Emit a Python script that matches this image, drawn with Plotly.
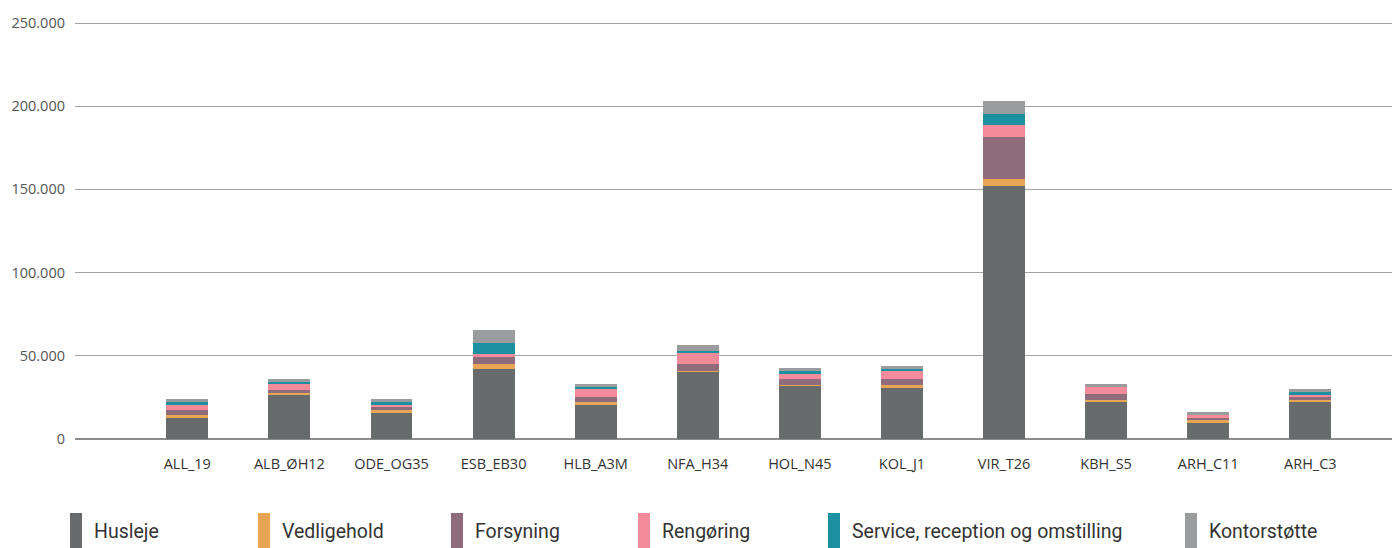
import plotly.graph_objects as go

categories = ["ALL_19", "ALB_ØH12", "ODE_OG35", "ESB_EB30", "HLB_A3M", "NFA_H34",
              "HOL_N45", "KOL_J1", "VIR_T26", "KBH_S5", "ARH_C11", "ARH_C3"]

husleje      = [12600, 26400, 15600, 42000, 20400, 40800, 32400, 31200, 152000, 22200, 9600, 22200]
vedligehold  = [1800, 1800, 1800, 3000, 1800, 300, 300, 1200, 4200, 1200, 1800, 1200]
forsyning    = [3000, 1200, 1800, 4800, 3000, 4200, 3600, 3600, 25200, 3600, 1200, 1800]
rengoring    = [3000, 3600, 1200, 1200, 4800, 6600, 3000, 4800, 7200, 4200, 1800, 1200]
service      = [1800, 1200, 1800, 6600, 1200, 1200, 1800, 1200, 6600, 0, 0, 1800]
kontorstotte = [1800, 1800, 1800, 7800, 1800, 3600, 1800, 1800, 7800, 1800, 1800, 1800]

series_names = ["Husleje", "Vedligehold", "Forsyning", "Rengøring",
                "Service, reception og omstilling", "Kontorstøtte"]
series_values = [husleje, vedligehold, forsyning, rengoring, service, kontorstotte]
colors = ["#686b6b", "#e9a556", "#8f6c7b", "#f48b9b", "#1b90a0", "#9a9c9d"]

y_ticks = [0, 50000, 100000, 150000, 200000, 250000]
y_tick_labels = ["0", "50.000", "100.000", "150.000", "200.000", "250.000"]

fig = go.Figure()
for name, vals, col in zip(series_names, series_values, colors):
    fig.add_trace(go.Bar(
        x=list(range(len(categories))), y=vals, name=name,
        marker=dict(color=col, line=dict(width=0)),
        width=0.41, showlegend=False,
    ))

# plot area geometry in pixels (for placing the custom legend)
W, H = 1392, 548
L, T, B = 75, 21, 439
PH = B - T

def px_x(x):
    return (x - L) / (W - L)

def px_y(y):
    return (B - y) / PH

legend_x = [70, 258, 451, 638, 828, 1185]
for lx, name, col in zip(legend_x, series_names, colors):
    fig.add_shape(type="rect", xref="paper", yref="paper",
                  x0=px_x(lx), x1=px_x(lx + 12),
                  y0=px_y(549), y1=px_y(513),
                  fillcolor=col, line=dict(width=0), layer="above")
    fig.add_annotation(xref="paper", yref="paper",
                       x=px_x(lx + 22), y=px_y(531),
                       xanchor="left", yanchor="middle", text=name, showarrow=False,
                       font=dict(family="Roboto", size=19.5, color="#333333"))

fig.update_layout(
    width=W, height=H,
    margin=dict(l=L, r=0, t=T, b=H - B),
    barmode="stack",
    plot_bgcolor="white", paper_bgcolor="white",
    separators=",.",
    xaxis=dict(
        tickmode="array", tickvals=list(range(len(categories))), ticktext=categories,
        range=[-1.1, 11.8], showgrid=False, zeroline=False, showline=False,
        ticks="", ticklabelstandoff=14,
        tickfont=dict(family="Open Sans", size=14.5, color="#333333"),
    ),
    yaxis=dict(
        range=[0, 251200], tickmode="array", tickvals=y_ticks, ticktext=y_tick_labels,
        showgrid=True, gridcolor="#a3a3a3", gridwidth=1,
        zeroline=True, zerolinecolor="#8c8c8c", zerolinewidth=2,
        showline=False, ticks="", ticklabelstandoff=9,
        tickfont=dict(family="Open Sans", size=14.5, color="#555555"),
    ),
)

fig.write_html("out.html")
